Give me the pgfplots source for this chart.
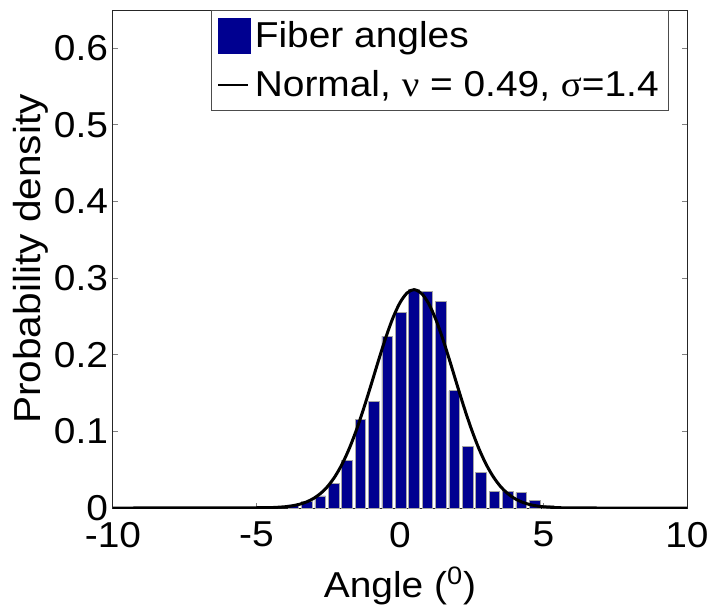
\documentclass[border=0pt]{standalone}
\usepackage{pgfplots}
\pgfplotsset{compat=1.18}
\usepackage{fontspec}
\setmainfont{Liberation Sans}[FakeStretch=1.08]
\newfontfamily\greek{Liberation Serif}[FakeStretch=1.08]
\definecolor{barblue}{RGB}{0,0,144}
\begin{document}
\begin{tikzpicture}
\useasboundingbox (0,0) rectangle (356.5pt,303pt);
\begin{axis}[
  at={(56.5pt,49pt)}, anchor=south west,
  scale only axis, width=287pt, height=249pt,
  xmin=-10, xmax=10, ymin=0, ymax=0.65,
  xtick={-10,-5,0,5,10}, xticklabels={-10,-5,0,5,10},
  ytick={0,0.1,0.2,0.3,0.4,0.5,0.6},
  yticklabels={0,0.1,0.2,0.3,0.4,0.5,0.6},
  tick align=inside, tick pos=both,
  major tick length=2.5pt,
  tick style={gray, line width=0.5pt},
  axis line style={line width=0.5pt, black!85},
  font=\fontsize{18}{21}\selectfont,
  ticklabel style={font=\fontsize{18}{21}\selectfont},
  xticklabel style={yshift=-3.5pt},
  yticklabel style={xshift=1pt},
  xlabel={Angle (\textsuperscript{0})},
  ylabel={Probability density},
  xlabel style={yshift=-3pt},
  ylabel style={yshift=-4pt, font=\fontsize{18.8}{21}\selectfont},
  legend cell align=left,
  legend style={at={(0.171,1)}, anchor=north west, draw=black!70, line width=0.5pt,
    font=\fontsize{18}{21}\selectfont, inner xsep=3pt, inner ysep=3.5pt, row sep=6pt},
]
\addplot[ybar, bar width=0.373, bar shift=0pt, fill=barblue, draw=gray!70, line width=0.4pt,
  legend image code/.code={\fill[barblue] (2pt,-8.5pt) rectangle (18pt,9pt);}]
coordinates {
(-3.711,0.004) (-3.244,0.009) (-2.777,0.0157) (-2.310,0.032) (-1.843,0.0626)
(-1.376,0.116) (-0.910,0.1387) (-0.443,0.2243) (0.024,0.2548) (0.491,0.2852)
(0.958,0.283) (1.425,0.270) (1.892,0.153) (2.359,0.080) (2.826,0.0465)
(3.293,0.022) (3.760,0.0213) (4.227,0.020) (4.694,0.0104) (5.161,0.003)
};
\addlegendentry{Fiber angles}
\addplot[black, line width=1.5pt, smooth,
  legend image code/.code={\draw[black, line width=0.8pt] (2pt,0pt) -- (17pt,0pt);}]
coordinates {
(-10,0) (-6,0.00006) (-5,0.00033) (-4.5,0.000497) (-4,0.00166) (-3.75,0.0029) (-3.5,0.00491)
(-3.25,0.00804) (-3,0.01275) (-2.75,0.01958) (-2.5,0.02912) (-2.25,0.04198)
(-2,0.05859) (-1.75,0.07922) (-1.5,0.1038) (-1.25,0.1317) (-1,0.1617)
(-0.75,0.1925) (-0.5,0.2219) (-0.25,0.2478) (0,0.2680) (0.25,0.2808)
(0.49,0.2850) (0.75,0.2801) (1,0.2667) (1.25,0.2459) (1.5,0.2197)
(1.75,0.1901) (2,0.1593) (2.25,0.1293) (2.5,0.1017) (2.75,0.0774)
(3,0.0571) (3.25,0.0408) (3.5,0.0282) (3.75,0.01894) (4,0.0123)
(4.25,0.00774) (4.5,0.00471) (4.75,0.00278) (5,0.00159) (5.5,0.00047)
(6,0.0001) (7,0.0000) (10,0)
};
\addlegendentry{Normal, {\greek ν} = 0.49, {\greek σ}=1.4}
\end{axis}
\end{tikzpicture}
\end{document}
